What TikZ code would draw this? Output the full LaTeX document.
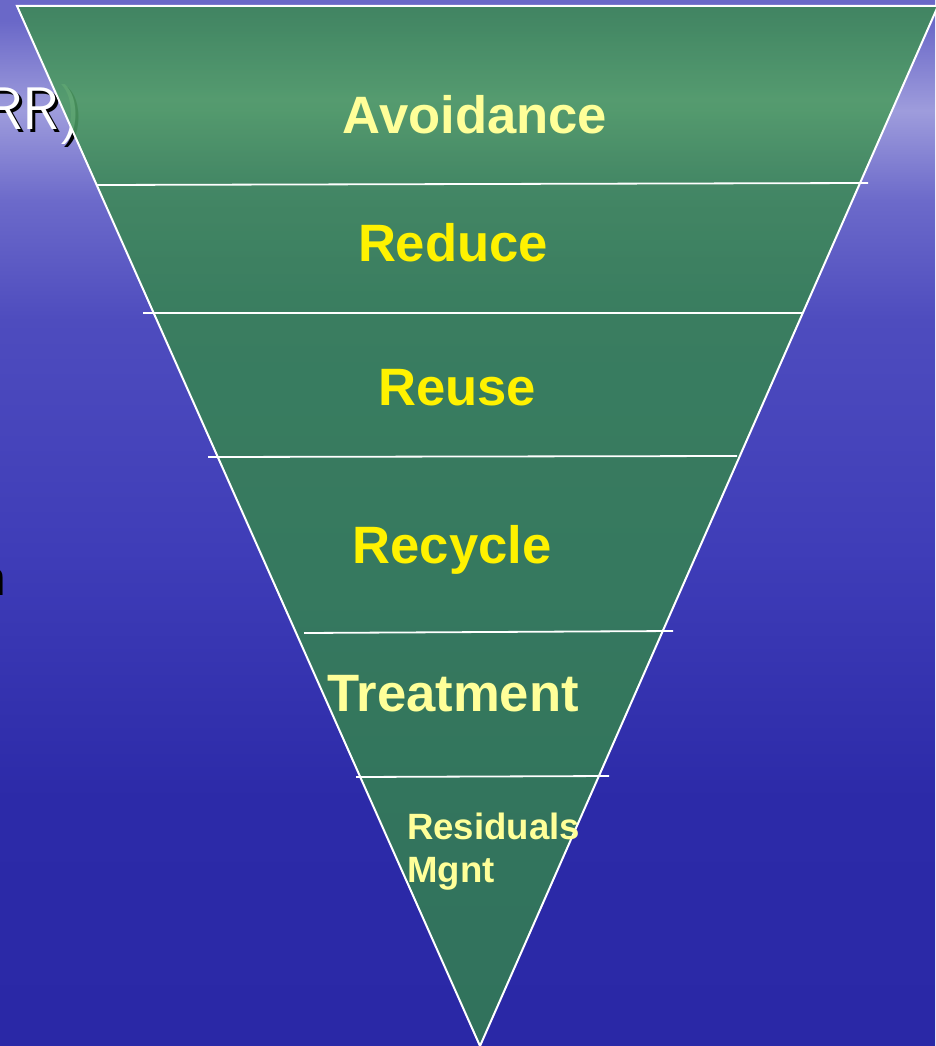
\documentclass[tikz,border=0pt]{standalone}
\usepackage{fontspec}
\newfontfamily\tierfont{Liberation Sans}
\usetikzlibrary{positioning}

\definecolor{seatop}{HTML}{6A68C8}
\definecolor{seaglow}{HTML}{9E9CDC}
\definecolor{seaupper}{HTML}{6C6ACA}
\definecolor{seamid}{HTML}{4E4CBE}
\definecolor{sealow}{HTML}{3F3DB8}
\definecolor{seadeep}{HTML}{2C2AA8}
\definecolor{seabottom}{HTML}{2A28A6}
\definecolor{leaftop}{HTML}{3D8858}
\definecolor{leafglow}{HTML}{4E9C64}
\definecolor{leafupper}{HTML}{3F8A5A}
\definecolor{leafmid}{HTML}{388356}
\definecolor{leafbottom}{HTML}{327B55}
\definecolor{paleyellow}{HTML}{FFFF99}

\pgfdeclareverticalshading{seashade}{100bp}{color(0bp)=(seabottom); color(25bp)=(seabottom);
  color(36.8bp)=(seadeep); color(48.7bp)=(sealow); color(59.7bp)=(seamid);
  color(65.4bp)=(seaupper); color(69.7bp)=(seaglow); color(74bp)=(seatop);
  color(75bp)=(seatop); color(100bp)=(seatop)}
\pgfdeclareverticalshading{leafshade}{100bp}{color(0bp)=(leafbottom); color(25bp)=(leafbottom);
  color(60.9bp)=(leafmid); color(66.6bp)=(leafupper); color(70.5bp)=(leafglow);
  color(75bp)=(leaftop); color(100bp)=(leaftop)}

\begin{document}
\begin{tikzpicture}[x=1pt, y=-1pt,
    tier/.style={inner sep=0pt, anchor=base, font=\tierfont\bfseries\fontsize{52.6}{60}\selectfont},
    small tier/.style={inner sep=0pt, anchor=base west, font=\tierfont\bfseries\fontsize{36.6}{43}\selectfont},
    slide text/.style={inner sep=0pt, anchor=base east, text=white, font=\sffamily\fontsize{60}{60}\selectfont},
    divider/.style={draw=white, line width=1.8pt}]

    \useasboundingbox (0,0) rectangle (935,1046);
    \shade[shading=seashade] (0,0) rectangle (935,1046);

    % text left over on the slide, partly hidden by the funnel
    \node[slide text, text=black] (rrshadow) at (84,132) {RR)};
    \node[slide text] (rr) at (81,129) {RR)};
    \node[slide text, text=black] (nshadow) at (8,595) {n};
    \node[slide text] (n) at (5,592) {n};

    \coordinate (tl) at (17,6);
    \coordinate (tr) at (938,6);
    \coordinate (tip) at (480,1046);
    \path[shade, shading=leafshade, fill opacity=0.9, draw=white, line width=2pt, line join=miter]
        (tl) -- (tr) -- (tip) -- cycle;

    \draw[divider] (97,185) -- (868,183);
    \draw[divider] (143,313) -- (802,313);
    \draw[divider] (208,457) -- (737,456);
    \draw[divider] (304,633) -- (673,631);
    \draw[divider] (356,777) -- (609,776);

    \node[tier, text=paleyellow] (avoid) at (475,133) {Avoidance};
    \node[tier, text=yellow] (reduce) at (453,261) {Reduce};
    \node[tier, text=yellow] (reuse) at (457,405) {Reuse};
    \node[tier, text=yellow] (recycle) at (452,563) {Recycle};
    \node[tier, text=paleyellow] (treat) at (453,711) {Treatment};
    \node[small tier, text=paleyellow] (resid) at (407,839) {Residuals};
    \node[small tier, text=paleyellow] (mgnt) at (407,882) {Mgnt};

\end{tikzpicture}
\end{document}
